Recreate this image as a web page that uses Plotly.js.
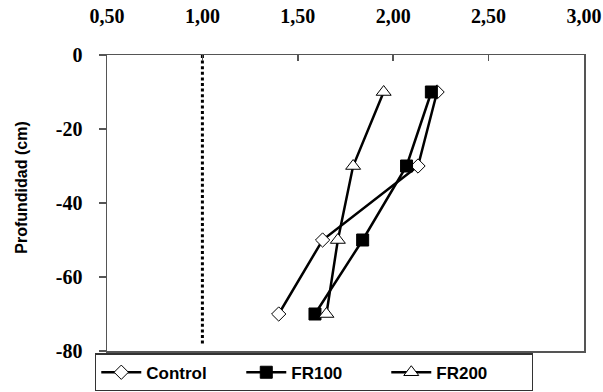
<!DOCTYPE html>
<html>
<head>
<meta charset="utf-8">
<script src="https://cdn.plot.ly/plotly-3.0.1.min.js"></script>
<style>html,body{margin:0;padding:0;background:#fff;}#chart{width:603px;height:392px;}</style>
</head>
<body>
<div id="chart"></div>
<script>
// Depth (cm)
const depth = [-10, -30, -50, -70];
// Series values
const controlVals = [2.23, 2.13, 1.63, 1.40];
const fr100Vals = [2.20, 2.07, 1.84, 1.59];
const fr200Vals = [1.95, 1.79, 1.71, 1.65];
// Reference dotted line at 1,00
const refX = [1.0, 1.0];
const refY = [0, -78];
// Tick labels
const xTickVals = [0.5, 1.0, 1.5, 2.0, 2.5, 3.0];
const xTickText = ["0,50", "1,00", "1,50", "2,00", "2,50", "3,00"];
const yTickVals = [0, -20, -40, -60, -80];
const yTickText = ["0", "-20", "-40", "-60", "-80"];

const serif = '"Liberation Serif", "Times New Roman", Times, serif';
const sans = '"Liberation Sans", Arial, Helvetica, sans-serif';

const traces = [
  {x: refX, y: refY, mode: 'lines', showlegend: false, hoverinfo: 'skip',
   line: {color: '#000', width: 3, dash: '3px,2.6px'}},
  {x: controlVals, y: depth, name: 'Control', mode: 'lines+markers',
   line: {color: '#000', width: 2.5},
   marker: {symbol: 'diamond', size: 11, color: '#fff', line: {color: '#000', width: 1}}},
  {x: fr100Vals, y: depth, name: 'FR100', mode: 'lines+markers',
   line: {color: '#000', width: 2.5},
   marker: {symbol: 'square', size: 12, color: '#000', line: {color: '#000', width: 1}}},
  {x: fr200Vals, y: depth, name: 'FR200', mode: 'lines+markers',
   line: {color: '#000', width: 2.5},
   marker: {symbol: 'triangle-up', size: 13, color: '#fff', line: {color: '#000', width: 1}}}
];

const layout = {
  width: 603, height: 392,
  margin: {l: 107, r: 19, t: 55, b: 41, pad: 0, autoexpand: false},
  paper_bgcolor: '#fff', plot_bgcolor: '#fff',
  showlegend: true,
  xaxis: {
    side: 'top', range: [0.5, 3.0], tickvals: xTickVals, ticktext: xTickText,
    showgrid: false, zeroline: false, showline: true, mirror: true,
    linecolor: '#555', linewidth: 1.5,
    ticks: 'inside', ticklen: 6, tickwidth: 1.5, tickcolor: '#555',
    ticklabelstandoff: 23,
    tickfont: {family: serif, size: 20, color: '#000', weight: 'bold'}
  },
  yaxis: {
    range: [-80, 0], tickvals: yTickVals, ticktext: yTickText,
    showgrid: false, zeroline: false, showline: true, mirror: true,
    linecolor: '#555', linewidth: 1.5,
    ticks: 'outside', ticklen: 7, tickwidth: 1.5, tickcolor: '#555',
    ticklabelstandoff: 12,
    tickfont: {family: serif, size: 20, color: '#000', weight: 'bold'}
  },
  legend: {
    orientation: 'h', x: -0.025, xanchor: 'left', y: -0.1368, yanchor: 'bottom',
    bgcolor: '#fff', bordercolor: '#333', borderwidth: 1.2,
    font: {family: sans, size: 17, color: '#000', weight: 'bold'},
    itemwidth: 40,
    entrywidth: 90, entrywidthmode: 'pixels', tracegroupgap: 0
  },
  annotations: [{
    text: 'Profundidad (cm)', textangle: -90, xref: 'paper', yref: 'paper',
    x: -0.178, y: 0.552, xanchor: 'center', yanchor: 'middle', showarrow: false,
    font: {family: sans, size: 16, color: '#000', weight: 'bold'}
  }]
};

Plotly.newPlot('chart', traces, layout, {displayModeBar: false, staticPlot: true});
</script>
</body>
</html>
